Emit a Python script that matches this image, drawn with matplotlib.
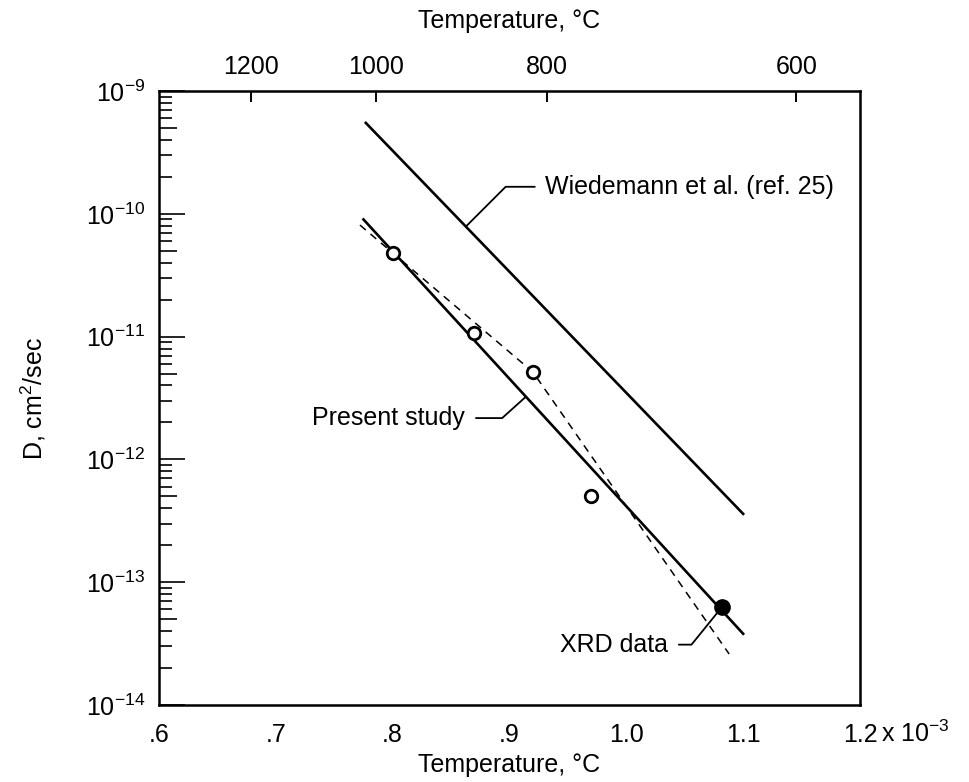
import matplotlib
matplotlib.use("Agg")
import matplotlib.pyplot as plt
import numpy as np

plt.rcParams['font.family'] = ['Liberation Sans', 'DejaVu Sans']
plt.rcParams['mathtext.default'] = 'regular'

# reciprocal temperature (x 10^-3 1/K) and diffusivity (cm^2/sec)
x_open = [0.80, 0.87, 0.92, 0.97]
d_open = [4.8e-11, 1.07e-11, 5.15e-12, 5.0e-13]
x_xrd = [1.082]
d_xrd = [6.3e-14]

x_present = [0.775, 1.10]
d_present = [9.0e-11, 3.8e-14]
x_wied = [0.777, 1.10]
d_wied = [5.5e-10, 3.6e-13]
x_dash = [0.772, 0.92, 1.088]
d_dash = [8.1e-11, 5.15e-12, 2.6e-14]

x_ticks = [0.6, 0.7, 0.8, 0.9, 1.0, 1.1, 1.2]
x_ticklabels = ['.6', '.7', '.8', '.9', '1.0', '1.1', '1.2']
top_ticks = [1200, 1000, 800, 600]
five_ticks = [5e-14, 5e-13, 5e-12, 5e-11, 5e-10]

FS = 18
pos = [0.1641, 0.0985, 0.7234, 0.7851]

fig = plt.figure(figsize=(9.69, 7.82), dpi=100)
ax = fig.add_axes(pos)

ax.plot(x_wied, d_wied, color='black', lw=1.9)
ax.plot(x_present, d_present, color='black', lw=1.9)
ax.plot(x_dash, d_dash, color='black', lw=1.1, ls=(0, (5, 4)))
ax.plot(x_open, d_open, 'o', ms=9, mfc='white', mec='black', mew=2)
ax.plot(x_xrd, d_xrd, 'o', ms=11, mfc='black', mec='black')

ax.set_yscale('log')
ax.set_xlim(0.6, 1.2)
ax.set_ylim(1e-14, 1e-9)

ax.set_xticks(x_ticks)
ax.set_xticklabels(x_ticklabels)
ax.tick_params(axis='x', direction='in', length=0, pad=13, labelsize=FS)
ax.tick_params(axis='y', which='major', direction='in', length=19, width=1.2,
               labelsize=FS, pad=10)
ax.tick_params(axis='y', which='minor', direction='in', length=9, width=1.2)
ax.yaxis.set_minor_locator(matplotlib.ticker.LogLocator(base=10, subs=[2, 3, 4, 6, 7, 8, 9]))
ax.yaxis.set_minor_formatter(matplotlib.ticker.NullFormatter())
ax.yaxis.set_major_formatter(matplotlib.ticker.FuncFormatter(
    lambda v, p: '$10^{%d}$' % round(np.log10(v))))

for s in ax.spines.values():
    s.set_linewidth(1.8)

# overlay axes for the longer ticks at the 5s
ax5 = fig.add_axes(pos, frameon=False)
ax5.patch.set_visible(False)
ax5.set_yscale('log')
ax5.set_ylim(1e-14, 1e-9)
ax5.set_yticks(five_ticks)
ax5.yaxis.set_minor_locator(matplotlib.ticker.NullLocator())
ax5.tick_params(axis='y', direction='in', length=13, width=1.2, labelleft=False)
ax5.xaxis.set_visible(False)

top = ax.secondary_xaxis('top', functions=(lambda x: 1000.0 / np.maximum(x, 1e-6) - 273.0,
                                           lambda t: 1000.0 / (t + 273.0)))
top.set_xticks(top_ticks)
top.xaxis.set_minor_locator(matplotlib.ticker.NullLocator())
top.tick_params(direction='in', length=8, width=1.4, labelsize=FS, pad=9)
top.set_xlabel('Temperature, °C', fontsize=FS, labelpad=19)

ax.set_xlabel('Temperature, °C', fontsize=FS, labelpad=4)
ax.set_ylabel('D, cm$^2$/sec', fontsize=FS)
ax.yaxis.set_label_coords(-0.158, 0.5)

ax.annotate('x $10^{-3}$', xy=(1.2, 0), xycoords=('data', 'axes fraction'),
            xytext=(15, -11), textcoords='offset points', ha='left', va='top',
            fontsize=FS)

ax.annotate('Wiedemann et al. (ref. 25)', xy=(0.8628, 7.9e-11), xytext=(0.93, 1.66e-10),
            fontsize=FS, ha='left', va='center',
            arrowprops=dict(arrowstyle='-', color='black', lw=1.3,
                            connectionstyle='angle,angleA=0,angleB=45,rad=0',
                            shrinkA=5, shrinkB=0))
ax.annotate('Present study', xy=(0.9134, 3.2e-12), xytext=(0.731, 2.17e-12),
            fontsize=FS, ha='left', va='center',
            arrowprops=dict(arrowstyle='-', color='black', lw=1.3,
                            connectionstyle='angle,angleA=0,angleB=42,rad=0',
                            shrinkA=6, shrinkB=0))
ax.annotate('XRD data', xy=(1.082, 6.3e-14), xytext=(0.943, 3.1e-14),
            fontsize=FS, ha='left', va='center',
            arrowprops=dict(arrowstyle='-', color='black', lw=1.3,
                            connectionstyle='angle,angleA=0,angleB=51,rad=0',
                            shrinkA=6, shrinkB=5))

fig.savefig('out.png', dpi=100)
